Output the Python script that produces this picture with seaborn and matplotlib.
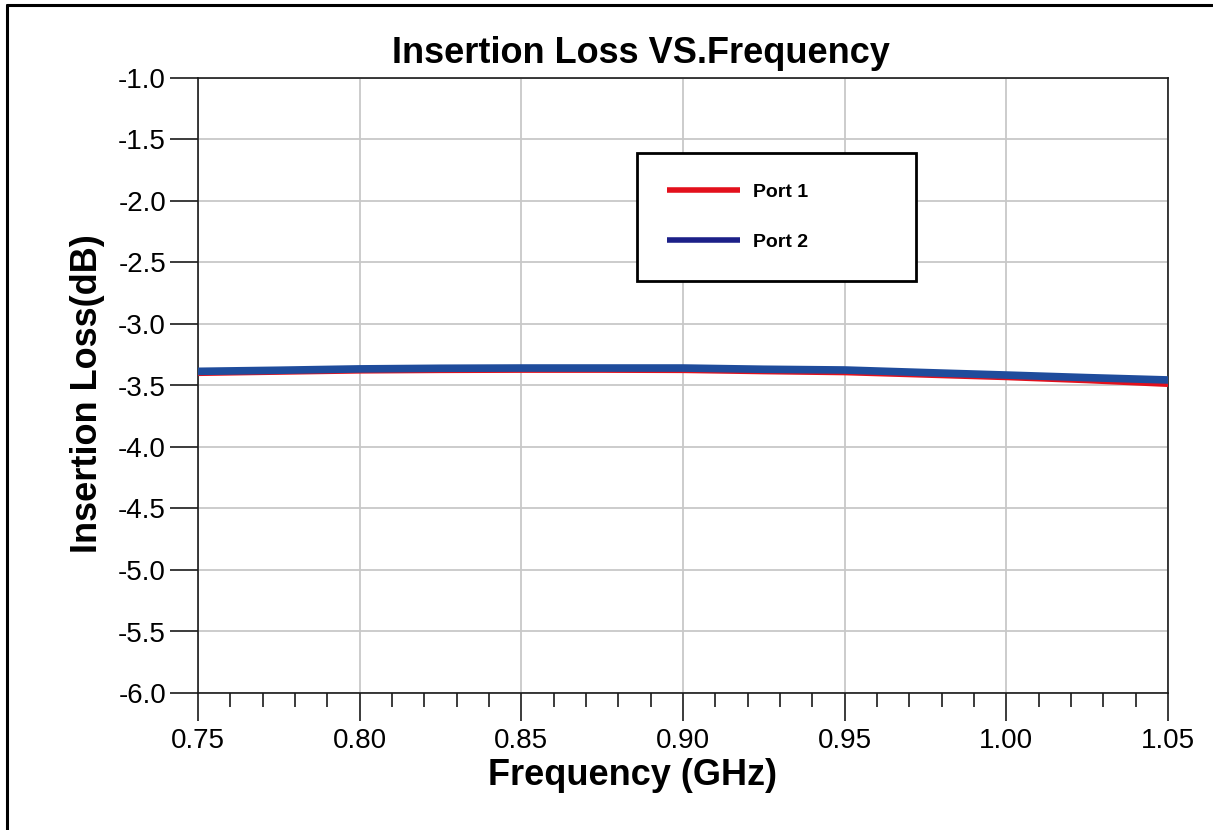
import matplotlib
matplotlib.use("Agg")
import matplotlib.pyplot as plt
from matplotlib.lines import Line2D
from matplotlib.ticker import MultipleLocator
import pandas as pd
import seaborn as sns

# Data
freq_ghz = [0.75, 0.775, 0.80, 0.825, 0.85, 0.875, 0.90, 0.925, 0.95, 0.975, 1.00, 1.025, 1.05]
port1_db = [-3.398, -3.388, -3.378, -3.374, -3.372, -3.372, -3.374, -3.384, -3.392, -3.412, -3.432, -3.457, -3.487]
port2_db = [-3.385, -3.376, -3.365, -3.360, -3.358, -3.358, -3.358, -3.368, -3.374, -3.395, -3.415, -3.436, -3.455]
x_ticks = [0.75, 0.80, 0.85, 0.90, 0.95, 1.00, 1.05]
y_ticks = [-1.0, -1.5, -2.0, -2.5, -3.0, -3.5, -4.0, -4.5, -5.0, -5.5, -6.0]

RED = '#e3101c'
BLUE = '#1f4c9c'
LEGEND_BLUE = '#1c2088'

df = pd.DataFrame({
    'Frequency': freq_ghz * 2,
    'Loss': port1_db + port2_db,
    'Port': ['Port 1'] * len(freq_ghz) + ['Port 2'] * len(freq_ghz),
})

sns.set_style('white')
plt.rcParams['font.family'] = ['Liberation Sans', 'DejaVu Sans']
plt.rcParams['text.color'] = 'black'
plt.rcParams['axes.labelcolor'] = 'black'

fig = plt.figure(figsize=(12.13, 8.30), dpi=100)
ax = fig.add_axes([198 / 1213, 1 - 693 / 830, 970 / 1213, 615 / 830])

# Port 1 under, Port 2 on top (thicker)
sns.lineplot(data=df[df.Port == 'Port 1'], x='Frequency', y='Loss', color=RED,
             linewidth=4.5, ax=ax, legend=False, zorder=3)
sns.lineplot(data=df[df.Port == 'Port 2'], x='Frequency', y='Loss', color=BLUE,
             linewidth=5.5, ax=ax, legend=False, zorder=4)

ax.set_xlim(0.75, 1.05)
ax.set_ylim(-6.0, -1.0)
ax.set_xticks(x_ticks)
ax.set_xticklabels([f'{v:.2f}' for v in x_ticks])
ax.set_yticks(y_ticks)
ax.set_yticklabels([f'{v:.1f}' for v in y_ticks])
ax.xaxis.set_minor_locator(MultipleLocator(0.01))
ax.set_xlabel('')
ax.set_ylabel('')

ax.grid(True, which='major', color='#c8c8c8', linewidth=1.3)
ax.set_axisbelow(True)
for side in ['left', 'bottom', 'right', 'top']:
    ax.spines[side].set_color('#1a1a1a')
    ax.spines[side].set_linewidth(1.2)

ax.tick_params(axis='both', which='major', direction='out', length=20, width=1.2,
               color='#1a1a1a', labelsize=20, labelcolor='black', pad=3,
               bottom=True, left=True)
ax.tick_params(axis='x', which='minor', direction='out', length=10, width=1.2,
               color='#1a1a1a', bottom=True)
ax.tick_params(axis='x', which='major', pad=5.5)

# Legend
handles = [Line2D([], [], color=RED, linewidth=4, solid_capstyle='butt'),
           Line2D([], [], color=LEGEND_BLUE, linewidth=4, solid_capstyle='butt')]
leg = ax.legend(handles, ['Port 1', 'Port 2'], loc='upper left', mode='expand',
                bbox_to_anchor=((637 - 198) / 970, (693 - 153) / 615,
                                (916 - 637) / 970, 0.0),
                frameon=True, fancybox=False, framealpha=1, edgecolor='black',
                prop={'weight': 'bold', 'size': 14}, handlelength=3.75,
                handletextpad=0.67, labelspacing=1.66, borderpad=1.55,
                borderaxespad=0)
leg.get_frame().set_linewidth(2)
leg.set_zorder(10)

# Titles
fig.text(641 / 1213, 1 - 63 / 830, 'Insertion Loss VS.Frequency', ha='center',
         va='baseline', fontsize=26, fontweight='bold')
fig.text(632 / 1213, 1 - 785 / 830, 'Frequency (GHz)', ha='center',
         va='baseline', fontsize=26, fontweight='bold')
fig.text(70 / 1213, 1 - 394 / 830, 'Insertion Loss(dB)', ha='left',
         va='center', rotation=90, fontsize=26, fontweight='bold')

# Outer frame (left and top only visible)
fig.add_artist(Line2D([7 / 1213, 7 / 1213], [0, 1 - 5 / 830], color='black',
                      linewidth=2.2, transform=fig.transFigure))
fig.add_artist(Line2D([7 / 1213, 1212 / 1213], [1 - 5 / 830, 1 - 5 / 830],
                      color='black', linewidth=2.2, transform=fig.transFigure))

fig.savefig('out.png', dpi=100)
